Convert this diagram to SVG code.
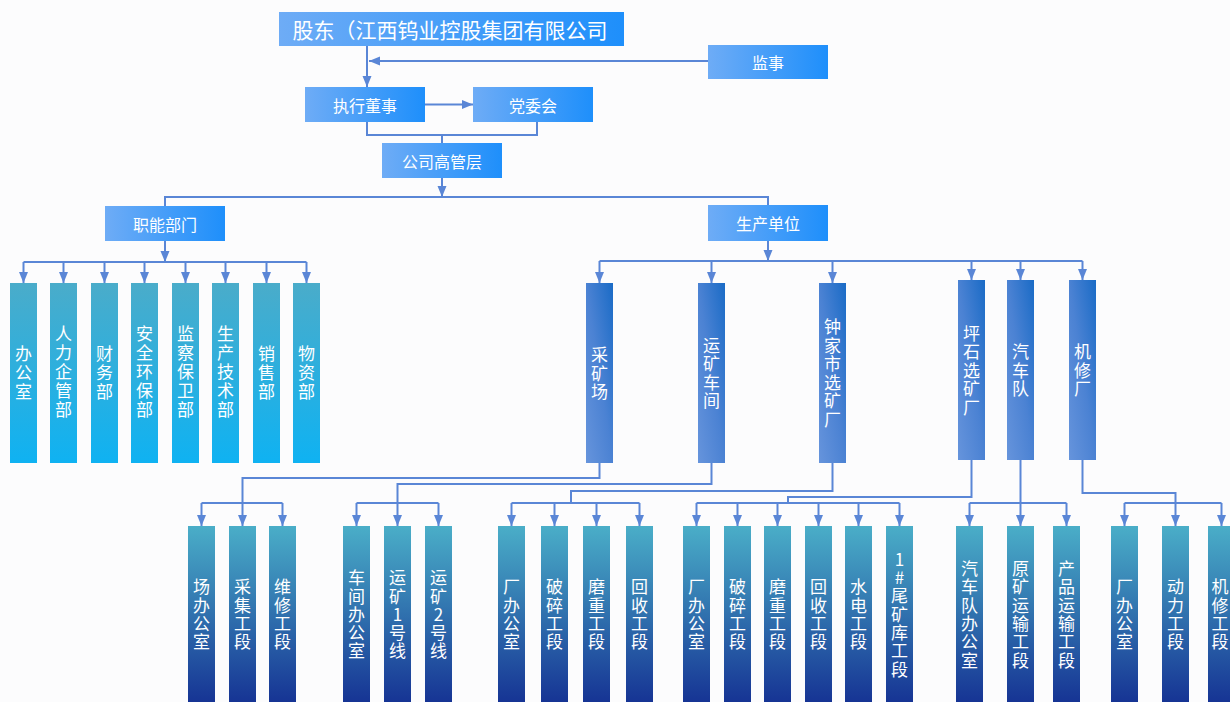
<svg xmlns="http://www.w3.org/2000/svg" width="1230" height="702" viewBox="0 0 1230 702">
<defs>
<linearGradient id="gTop" x1="0" y1="0" x2="1" y2="0"><stop offset="0" stop-color="#6eacf6"/><stop offset="1" stop-color="#1e8ffb"/></linearGradient>
<linearGradient id="gFunc" x1="0" y1="0" x2="0" y2="1"><stop offset="0" stop-color="#4aacca"/><stop offset="1" stop-color="#0fb2f2"/></linearGradient>
<linearGradient id="gProd" x1="0" y1="1" x2="1" y2="0"><stop offset="0" stop-color="#6694dc"/><stop offset="0.5" stop-color="#4b82d3"/><stop offset="1" stop-color="#1a6bc6"/></linearGradient>
<linearGradient id="gSub" x1="0" y1="0" x2="0" y2="1"><stop offset="0" stop-color="#4aaec8"/><stop offset="1" stop-color="#163494"/></linearGradient>
<marker id="arr" markerUnits="userSpaceOnUse" markerWidth="11" markerHeight="10" refX="11" refY="5" orient="auto"><path d="M0,0.5 L11,5 L0,9.5 z" fill="#5a86d6"/></marker>
<style>
.top{fill:url(#gTop);}
.func{fill:url(#gFunc);}
.prod{fill:url(#gProd);}
.sub{fill:url(#gSub);}
text{font-family:"Noto Sans CJK SC","Noto Sans",sans-serif;fill:#ffffff;}
.h{font-size:16px;text-anchor:middle;dominant-baseline:central;}
.big{font-size:21px;text-anchor:middle;dominant-baseline:central;}
.v{font-size:17px;text-anchor:middle;writing-mode:vertical-rl;text-orientation:upright;}
.vf{letter-spacing:2px;}
.vp{letter-spacing:1.5px;}
.vs{letter-spacing:1.3px;}
.c{fill:none;stroke:#5a86d6;stroke-width:2;}
.a{fill:none;stroke:#5a86d6;stroke-width:2;marker-end:url(#arr);}
</style>
</defs>
<rect x="0" y="0" width="1230" height="702" fill="#fcfcfd"/>

<g id="connectors">
<path class="a" d="M367,46 V87"/>
<path class="a" d="M708,61 H369"/>
<path class="a" d="M425,104.5 H473"/>
<path class="c" d="M367,122 V135 H537 V122"/>
<path class="c" d="M442,135 V143"/>
<path class="a" d="M442,178 V197"/>
<path class="c" d="M165,206 V197 H768 V205"/>
<path class="a" d="M165,241 V262"/>
<path class="c" d="M23.5,262 H306.5"/>
<path class="a" d="M23.5,262 V283"/>
<path class="a" d="M63.5,262 V283"/>
<path class="a" d="M104.5,262 V283"/>
<path class="a" d="M144.5,262 V283"/>
<path class="a" d="M185.5,262 V283"/>
<path class="a" d="M225.5,262 V283"/>
<path class="a" d="M266.5,262 V283"/>
<path class="a" d="M306.5,262 V283"/>
<path class="a" d="M768,241 V261"/>
<path class="c" d="M599.5,261 H1082.5"/>
<path class="a" d="M599.5,261 V283"/>
<path class="a" d="M711.5,261 V283"/>
<path class="a" d="M832.5,261 V283"/>
<path class="a" d="M971.5,261 V280"/>
<path class="a" d="M1020.5,261 V280"/>
<path class="a" d="M1082.5,261 V280"/>
<path class="a" d="M599.5,463 V478 H242.5 V526"/>
<path class="c" d="M201.5,503 H282.5"/>
<path class="a" d="M201.5,503 V526"/>
<path class="a" d="M282.5,503 V526"/>
<path class="a" d="M711.5,463 V484 H397.5 V526"/>
<path class="c" d="M356.5,503 H438.5"/>
<path class="a" d="M356.5,503 V526"/>
<path class="a" d="M438.5,503 V526"/>
<path class="c" d="M832.5,463 V491 H571 V503"/>
<path class="c" d="M511.5,503 H639.5"/>
<path class="a" d="M511.5,503 V526"/>
<path class="a" d="M554.5,503 V526"/>
<path class="a" d="M596.5,503 V526"/>
<path class="a" d="M639.5,503 V526"/>
<path class="c" d="M971.5,460 V497 H788 V503"/>
<path class="c" d="M696.5,503 H899.5"/>
<path class="a" d="M696.5,503 V526"/>
<path class="a" d="M737.5,503 V526"/>
<path class="a" d="M777.5,503 V526"/>
<path class="a" d="M818.5,503 V526"/>
<path class="a" d="M858.5,503 V526"/>
<path class="a" d="M899.5,503 V526"/>
<path class="a" d="M1020.5,460 V526"/>
<path class="c" d="M969.5,503 H1066.5"/>
<path class="a" d="M969.5,503 V526"/>
<path class="a" d="M1066.5,503 V526"/>
<path class="a" d="M1082.5,460 V493 H1175.5 V526"/>
<path class="c" d="M1124.5,503 H1221.5"/>
<path class="a" d="M1124.5,503 V526"/>
<path class="a" d="M1221.5,503 V526"/>
</g>

<g id="n-gudong"><rect class="top" x="279" y="12" width="345" height="34"/><text class="big" x="450" y="29">股东（江西钨业控股集团有限公司</text></g>
<g id="n-jianshi"><rect class="top" x="708" y="45" width="120" height="34"/><text class="h" x="768" y="62">监事</text></g>
<g id="n-zhixing"><rect class="top" x="305" y="87" width="120" height="35"/><text class="h" x="365" y="104.5">执行董事</text></g>
<g id="n-dangwei"><rect class="top" x="473" y="87" width="120" height="35"/><text class="h" x="533" y="104.5">党委会</text></g>
<g id="n-gaoguan"><rect class="top" x="382" y="143" width="120" height="35"/><text class="h" x="442" y="160.5">公司高管层</text></g>
<g id="n-zhineng"><rect class="top" x="105" y="206" width="120" height="35"/><text class="h" x="165" y="223.5">职能部门</text></g>
<g id="n-shengchan"><rect class="top" x="708" y="205" width="120" height="36"/><text class="h" x="768" y="223">生产单位</text></g>

<g id="f1"><rect class="func" x="10" y="283" width="27" height="180"/><text class="v vf" x="23.5" y="374">办公室</text></g>
<g id="f2"><rect class="func" x="50" y="283" width="27" height="180"/><text class="v vf" x="63.5" y="373">人力企管部</text></g>
<g id="f3"><rect class="func" x="91" y="283" width="27" height="180"/><text class="v vf" x="104.5" y="374">财务部</text></g>
<g id="f4"><rect class="func" x="131" y="283" width="27" height="180"/><text class="v vf" x="144.5" y="373">安全环保部</text></g>
<g id="f5"><rect class="func" x="172" y="283" width="27" height="180"/><text class="v vf" x="185.5" y="373">监察保卫部</text></g>
<g id="f6"><rect class="func" x="212" y="283" width="27" height="180"/><text class="v vf" x="225.5" y="373">生产技术部</text></g>
<g id="f7"><rect class="func" x="253" y="283" width="27" height="180"/><text class="v vf" x="266.5" y="374">销售部</text></g>
<g id="f8"><rect class="func" x="293" y="283" width="27" height="180"/><text class="v vf" x="306.5" y="374">物资部</text></g>

<g id="p1"><rect class="prod" x="586" y="283" width="27" height="180"/><text class="v vp" x="599.5" y="374">采矿场</text></g>
<g id="p2"><rect class="prod" x="698" y="283" width="27" height="180"/><text class="v vp" x="711.5" y="374">运矿车间</text></g>
<g id="p3"><rect class="prod" x="819" y="283" width="27" height="180"/><text class="v vp" x="832.5" y="374">钟家市选矿厂</text></g>
<g id="p4"><rect class="prod" x="958" y="280" width="27" height="180"/><text class="v vp" x="971.5" y="371">坪石选矿厂</text></g>
<g id="p5"><rect class="prod" x="1007" y="280" width="27" height="180"/><text class="v vp" x="1020.5" y="371">汽车队</text></g>
<g id="p6"><rect class="prod" x="1069" y="280" width="27" height="180"/><text class="v vp" x="1082.5" y="371">机修厂</text></g>

<g id="s1"><rect class="sub" x="188" y="526" width="27" height="176"/><text class="v vs" x="201.5" y="615">场办公室</text></g>
<g id="s2"><rect class="sub" x="229" y="526" width="27" height="176"/><text class="v vs" x="242.5" y="615">采集工段</text></g>
<g id="s3"><rect class="sub" x="269" y="526" width="27" height="176"/><text class="v vs" x="282.5" y="615">维修工段</text></g>
<g id="s4"><rect class="sub" x="343" y="526" width="27" height="176"/><text class="v vs" x="356.5" y="615">车间办公室</text></g>
<g id="s5"><rect class="sub" x="384" y="526" width="27" height="176"/><text class="v vs" x="397.5" y="615">运矿1号线</text></g>
<g id="s6"><rect class="sub" x="425" y="526" width="27" height="176"/><text class="v vs" x="438.5" y="615">运矿2号线</text></g>
<g id="s7"><rect class="sub" x="498" y="526" width="27" height="176"/><text class="v vs" x="511.5" y="615">厂办公室</text></g>
<g id="s8"><rect class="sub" x="541" y="526" width="27" height="176"/><text class="v vs" x="554.5" y="615">破碎工段</text></g>
<g id="s9"><rect class="sub" x="583" y="526" width="27" height="176"/><text class="v vs" x="596.5" y="615">磨重工段</text></g>
<g id="s10"><rect class="sub" x="626" y="526" width="27" height="176"/><text class="v vs" x="639.5" y="615">回收工段</text></g>
<g id="s11"><rect class="sub" x="683" y="526" width="27" height="176"/><text class="v vs" x="696.5" y="615">厂办公室</text></g>
<g id="s12"><rect class="sub" x="724" y="526" width="27" height="176"/><text class="v vs" x="737.5" y="615">破碎工段</text></g>
<g id="s13"><rect class="sub" x="764" y="526" width="27" height="176"/><text class="v vs" x="777.5" y="615">磨重工段</text></g>
<g id="s14"><rect class="sub" x="805" y="526" width="27" height="176"/><text class="v vs" x="818.5" y="615">回收工段</text></g>
<g id="s15"><rect class="sub" x="845" y="526" width="27" height="176"/><text class="v vs" x="858.5" y="615">水电工段</text></g>
<g id="s16"><rect class="sub" x="886" y="526" width="27" height="176"/><text class="v vs" x="899.5" y="615">1#尾矿库工段</text></g>
<g id="s17"><rect class="sub" x="956" y="526" width="27" height="176"/><text class="v vs" x="969.5" y="615">汽车队办公室</text></g>
<g id="s18"><rect class="sub" x="1007" y="526" width="27" height="176"/><text class="v vs" x="1020.5" y="615">原矿运输工段</text></g>
<g id="s19"><rect class="sub" x="1053" y="526" width="27" height="176"/><text class="v vs" x="1066.5" y="615">产品运输工段</text></g>
<g id="s20"><rect class="sub" x="1111" y="526" width="27" height="176"/><text class="v vs" x="1124.5" y="615">厂办公室</text></g>
<g id="s21"><rect class="sub" x="1162" y="526" width="27" height="176"/><text class="v vs" x="1175.5" y="615">动力工段</text></g>
<g id="s22"><rect class="sub" x="1208" y="526" width="27" height="176"/><text class="v vs" x="1220" y="615">机修工段</text></g>
</svg>
